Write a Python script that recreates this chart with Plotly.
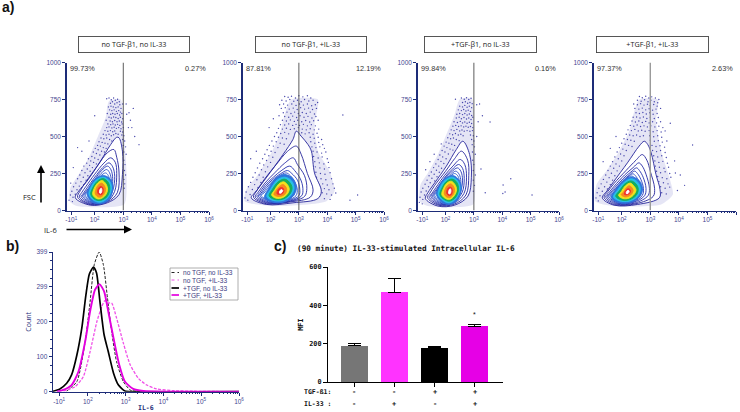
import numpy as np
import plotly.graph_objects as go

W, H = 740, 412
MONO = "DejaVu Sans Mono"
SANS = "Liberation Sans"
NAVY = "#1d2c78"
TICKC = "#45458f"

# ---------- panel a ----------
PANEL_TITLES = ["no TGF-β1, no IL-33", "no TGF-β1, +IL-33", "+TGF-β1, no IL-33", "+TGF-β1, +IL-33"]
LEFT_PCT = ["99.73%", "87.81%", "99.84%", "97.37%"]
RIGHT_PCT = ["0.27%", "12.19%", "0.16%", "2.63%"]
GATE_X = 3
FLOW_TICKS = [1.18, 2, 3, 4, 5, 6]
FLOW_LABELS = ["-10<sup>1</sup>", "10<sup>2</sup>", "10<sup>3</sup>", "10<sup>4</sup>", "10<sup>5</sup>", "10<sup>6</sup>"]
FSC_TICKS = [0, 250, 500, 750, 1000]

RING_LINE = ["#24249a", "#24249a", "#2428a4", "#2430ae", "#2438b8", "#2848c4", "#2c5cd0",
             "#2f74dc", "#28bfe6", "#16ad5c", "#f2e11e", "#f58a1f", "#ee2f2f", "#ffffff"]

HAZE_X = [[1.12,1.15,1.44,1.79,2.09,2.38,2.5,2.91,3.0,3.08,3.12,3.03,1.38],
          [1.09,1.15,1.56,2.03,2.32,2.5,2.73,3.67,3.55,3.67,4.08,4.26,3.97,2.2],
          [1.09,1.12,1.38,1.73,2.03,2.32,2.5,2.93,3.0,3.05,3.05,2.97,1.38],
          [1.07,1.12,1.5,1.91,2.26,2.44,2.61,3.26,3.2,3.38,3.67,3.79,3.38,1.73]]
HAZE_Y = [[63,153,243,356,491,626,739,750,603,378,198,41,30],
          [63,142,243,390,513,649,750,750,581,401,266,131,63,30],
          [63,176,254,378,513,649,750,757,581,333,176,41,30],
          [63,176,277,401,536,671,750,750,603,401,221,108,41,30]]

P1_RX = [
 [1.32,1.85,2.44,2.85,2.97,2.97,2.85,2.77,2.56,2.2,1.73,1.44],
 [1.4,1.85,2.44,2.79,2.85,2.77,2.67,2.44,2.09,1.68,1.5],
 [1.46,1.85,2.44,2.7,2.77,2.72,2.56,2.32,2.0,1.7,1.54],
 [1.52,1.88,2.4,2.63,2.7,2.63,2.5,2.28,2.0,1.74,1.6],
 [1.57,1.9,2.38,2.58,2.63,2.57,2.45,2.24,2.0,1.78,1.64],
 [1.62,1.92,2.35,2.54,2.58,2.52,2.42,2.22,2.0,1.82,1.68],
 [1.67,1.94,2.33,2.5,2.53,2.47,2.38,2.2,2.02,1.86,1.72],
 [1.73,1.91,2.2,2.5,2.64,2.56,2.32,2.03,1.83],
 [1.8,1.97,2.2,2.46,2.59,2.5,2.3,2.06,1.87],
 [1.86,2.03,2.2,2.44,2.53,2.46,2.29,2.09,1.93],
 [1.93,2.06,2.2,2.38,2.45,2.39,2.26,2.11,1.98],
 [2.02,2.11,2.23,2.34,2.38,2.33,2.24,2.12,2.04],
 [2.11,2.18,2.26,2.3,2.27,2.2,2.13,2.1],
 [2.17,2.22,2.25,2.23,2.19]]
P1_RY = [
 [86,36,52,108,243,401,491,495,446,333,198,131],
 [90,40,58,120,260,360,412,390,300,190,135],
 [92,44,62,130,250,325,356,320,245,165,120],
 [95,48,66,135,230,295,322,290,225,155,115],
 [98,52,70,135,215,275,300,270,210,150,115],
 [100,55,72,135,205,255,277,250,200,148,118],
 [103,58,75,135,195,238,254,232,190,147,120],
 [108,59,45,74,153,209,236,216,164],
 [108,68,56,86,153,203,225,207,158],
 [108,72,68,95,149,194,216,198,153],
 [108,81,79,104,144,180,203,187,149],
 [113,92,92,115,142,171,185,171,142],
 [117,106,110,135,158,162,149,131],
 [119,117,137,151,144]]

P2_RX = [
 [1.32,1.85,2.79,3.67,3.79,3.55,3.44,3.32,3.08,2.91,2.79,2.44,1.85,1.5],
 [1.4,1.85,2.7,3.4,3.5,3.3,3.08,2.91,2.6,2.2,1.8,1.52],
 [1.46,1.9,2.7,3.2,3.28,3.2,2.95,2.8,2.5,2.15,1.8,1.57],
 [1.52,1.95,2.7,3.1,3.14,3.05,2.85,2.68,2.4,2.1,1.8,1.62],
 [1.57,2.0,2.65,3.0,3.03,2.95,2.75,2.6,2.35,2.08,1.82,1.67],
 [1.62,2.05,2.6,2.9,2.94,2.85,2.7,2.55,2.32,2.08,1.86,1.72],
 [1.67,2.08,2.55,2.82,2.86,2.78,2.65,2.5,2.3,2.08,1.9,1.77],
 [1.79,2.03,2.44,2.79,2.91,2.79,2.5,2.2,1.95],
 [1.87,2.09,2.44,2.73,2.83,2.73,2.5,2.24,2.02],
 [1.95,2.15,2.44,2.67,2.76,2.67,2.49,2.27,2.07],
 [2.04,2.2,2.44,2.6,2.66,2.59,2.46,2.3,2.15],
 [2.12,2.26,2.44,2.54,2.57,2.51,2.43,2.31,2.19],
 [2.23,2.32,2.44,2.47,2.43,2.34,2.25],
 [2.32,2.38,2.43,2.38,2.33]]
P2_RY = [
 [86,41,52,81,131,254,401,446,502,536,480,378,221,131],
 [90,46,58,90,140,250,380,435,400,310,215,135],
 [92,50,62,95,150,235,310,356,320,255,185,125],
 [95,52,65,100,150,215,270,300,272,225,170,120],
 [97,55,68,100,145,205,250,270,248,210,160,118],
 [100,58,70,100,145,195,235,254,235,200,155,118],
 [102,60,72,102,145,190,225,240,222,192,150,118],
 [86,59,56,97,153,216,243,221,153],
 [95,68,68,104,153,203,225,207,149],
 [99,74,77,108,151,191,212,194,144],
 [104,83,88,113,146,176,194,180,140],
 [108,95,101,119,144,167,176,162,135],
 [113,108,119,137,153,153,135],
 [117,119,135,142,133]]

P3_RX = [
 [1.29,1.73,2.32,2.79,2.91,2.85,2.61,2.38,2.03,1.62,1.38],
 [1.36,1.75,2.3,2.72,2.82,2.78,2.56,2.32,2.0,1.62,1.44],
 [1.42,1.78,2.28,2.65,2.74,2.68,2.52,2.26,1.96,1.66,1.5],
 [1.48,1.8,2.26,2.58,2.66,2.6,2.46,2.22,1.94,1.7,1.55],
 [1.53,1.83,2.24,2.52,2.6,2.54,2.42,2.18,1.93,1.72,1.59],
 [1.58,1.85,2.22,2.47,2.54,2.48,2.36,2.16,1.93,1.76,1.63],
 [1.62,1.87,2.2,2.43,2.49,2.44,2.32,2.14,1.94,1.79,1.67],
 [1.68,1.85,2.14,2.42,2.56,2.48,2.26,1.97,1.77],
 [1.74,1.91,2.14,2.38,2.51,2.43,2.24,2.0,1.81],
 [1.8,1.97,2.14,2.36,2.46,2.4,2.23,2.03,1.87],
 [1.87,2.0,2.14,2.31,2.39,2.33,2.2,2.05,1.92],
 [1.96,2.05,2.17,2.28,2.32,2.27,2.18,2.06,1.98],
 [2.05,2.12,2.2,2.24,2.21,2.14,2.07,2.04],
 [2.11,2.16,2.19,2.17,2.13]]
P3_RY = [
 [81,30,36,97,221,378,468,412,300,187,120],
 [88,36,42,105,235,340,401,350,265,170,115],
 [92,40,48,115,225,310,345,300,235,155,110],
 [96,44,52,120,215,285,311,275,215,150,112],
 [98,48,56,125,205,265,288,255,205,145,112],
 [100,52,60,125,195,245,266,238,190,142,114],
 [102,56,63,125,185,232,250,225,182,140,116],
 [108,59,41,70,150,205,236,216,164],
 [108,68,52,82,150,200,225,207,158],
 [106,72,63,90,146,190,212,196,150],
 [106,81,74,100,140,176,198,185,146],
 [110,90,88,111,138,167,180,167,140],
 [113,102,106,131,154,158,145,128],
 [115,113,133,147,140]]

P4_RX = [
 [1.32,1.73,2.56,3.32,3.34,3.2,3.03,2.91,2.79,2.61,2.2,1.73,1.48],
 [1.38,1.75,2.5,3.1,3.15,3.0,2.88,2.72,2.5,2.15,1.72,1.52],
 [1.44,1.8,2.45,2.92,2.97,2.85,2.72,2.6,2.4,2.1,1.74,1.57],
 [1.49,1.85,2.4,2.8,2.85,2.75,2.62,2.52,2.32,2.05,1.76,1.61],
 [1.54,1.88,2.38,2.72,2.76,2.67,2.55,2.45,2.27,2.03,1.78,1.65],
 [1.59,1.9,2.35,2.65,2.68,2.6,2.48,2.39,2.22,2.02,1.8,1.69],
 [1.63,1.93,2.32,2.59,2.62,2.55,2.44,2.34,2.19,2.01,1.83,1.73],
 [1.64,1.87,2.26,2.61,2.73,2.61,2.34,2.06,1.79],
 [1.71,1.92,2.26,2.56,2.65,2.56,2.34,2.09,1.85],
 [1.79,1.97,2.26,2.5,2.58,2.49,2.32,2.11,1.91],
 [1.89,2.04,2.25,2.43,2.5,2.41,2.3,2.13,1.98],
 [1.98,2.1,2.25,2.36,2.4,2.34,2.26,2.16,2.05],
 [2.09,2.17,2.27,2.31,2.26,2.18,2.11],
 [2.16,2.22,2.26,2.22,2.17]]
P4_RY = [
 [86,36,41,86,142,243,390,446,468,435,322,198,131],
 [90,40,46,95,150,265,340,378,340,270,180,130],
 [92,44,50,100,150,245,300,322,290,240,165,125],
 [95,47,54,100,150,225,270,288,260,215,155,122],
 [97,50,57,102,150,210,250,266,240,200,148,120],
 [100,53,60,102,148,197,235,248,226,190,143,118],
 [102,56,62,103,146,187,222,233,214,182,140,118],
 [86,56,52,90,146,203,227,203,142],
 [92,65,63,97,146,191,214,191,137],
 [97,72,72,101,144,182,200,180,131],
 [101,81,83,108,140,169,185,167,126],
 [108,92,97,115,137,158,167,153,122],
 [110,106,115,133,146,144,126],
 [115,115,131,137,128]]

P1_DOTS = [(2.42,755),(2.5,760),(2.58,748),(2.66,760),(2.72,745),(2.8,752),(2.86,735),(2.55,725),(2.62,735),(2.7,720),(2.78,728),(2.88,715),(2.48,700),(2.57,705),(2.65,700),(2.74,695),(2.82,700),(2.92,690),(2.98,720),(2.52,680),(2.6,675),(2.68,680),(2.76,670),(2.84,675),(2.9,665),(2.44,655),(2.56,650),(2.63,655),(2.71,650),(2.79,655),(2.87,645),(2.95,655),(2.5,630),(2.58,625),(2.66,632),(2.74,628),(2.82,622),(2.9,630),(2.98,620),(2.4,610),(2.54,605),(2.62,600),(2.7,608),(2.78,600),(2.86,605),(2.94,598),(2.46,585),(2.56,580),(2.64,585),(2.72,578),(2.8,582),(2.88,575),(2.96,585),(2.42,560),(2.5,565),(2.6,558),(2.68,562),(2.76,555),(2.84,560),(2.92,552),(3.0,560),(2.36,540),(2.46,535),(2.55,540),(2.63,532),(2.7,538),(2.9,535),(2.98,530),(2.3,515),(2.4,510),(2.5,515),(2.58,505),(2.66,512),(2.74,520),(2.82,515),(2.95,510),(3.02,505),(2.22,490),(2.32,485),(2.42,490),(2.52,480),(2.6,470),(2.98,480),(3.05,470),(2.15,465),(2.26,460),(2.36,455),(2.46,450),(2.1,440),(2.2,435),(2.3,425),(2.4,420),(3.0,440),(3.08,430),(2.02,420),(2.12,410),(2.24,400),(2.34,395),(1.95,395),(2.06,385),(2.18,375),(3.02,395),(3.1,380),(1.9,365),(2.0,355),(2.12,345),(1.78,350),(1.86,335),(1.96,325),(2.06,315),(3.02,340),(3.06,310),(1.72,320),(1.82,305),(1.92,290),(1.62,300),(1.74,280),(1.84,265),(3.04,270),(3.08,240),(1.55,270),(1.66,255),(1.76,235),(1.48,240),(1.6,225),(1.7,205),(3.02,210),(3.05,180),(1.4,215),(1.52,195),(1.62,175),(1.34,185),(1.46,165),(1.55,150),(3.03,150),(1.26,160),(1.38,140),(1.48,120),(1.2,130),(1.32,110),(1.15,105),(1.24,90),(1.1,70),(1.22,60),(1.16,185),(3.35,690),(3.2,660),(3.1,720),(3.25,610),(3.18,560),(3.55,445),(2.0,640),(1.4,425),(1.8,470),(1.55,400),(1.25,290),(3.4,500),(3.3,560),(3.12,650)]

P2_DOTS = [(2.5,770),(2.62,765),(2.74,772),(2.88,760),(3.0,775),(3.14,768),(3.3,775),(3.42,760),(2.4,745),(2.55,740),(2.68,750),(2.82,738),(2.95,745),(3.08,735),(3.2,750),(3.35,740),(3.5,745),(3.66,730),(2.32,715),(2.46,720),(2.6,712),(2.75,720),(2.9,710),(3.02,720),(3.16,712),(3.3,720),(3.45,708),(3.58,715),(2.38,690),(2.52,695),(2.66,685),(2.8,692),(2.94,682),(3.06,695),(3.2,685),(3.34,692),(3.48,682),(3.62,690),(2.45,660),(2.58,665),(2.72,655),(2.85,665),(2.98,655),(3.12,662),(3.26,655),(3.4,665),(3.55,652),(2.3,640),(2.5,635),(2.64,630),(2.78,638),(2.92,628),(3.04,640),(3.18,630),(3.32,636),(3.46,625),(3.6,635),(2.42,610),(2.56,605),(2.7,612),(2.84,602),(2.96,610),(3.1,600),(3.24,608),(3.38,598),(3.52,606),(3.68,610),(2.35,580),(2.5,578),(2.64,585),(2.78,575),(2.9,582),(3.02,575),(3.16,582),(3.3,572),(3.44,580),(3.58,572),(2.28,555),(2.42,550),(2.56,556),(2.7,548),(2.84,552),(2.98,560),(3.12,550),(3.26,545),(3.4,552),(3.54,545),(3.7,550),(2.22,525),(2.36,520),(2.5,528),(2.64,518),(3.1,525),(3.22,518),(3.36,525),(3.5,515),(3.64,522),(2.14,500),(2.28,495),(2.42,490),(2.56,485),(3.4,495),(3.54,488),(3.68,495),(3.8,480),(2.05,470),(2.2,465),(2.34,455),(2.48,448),(3.42,465),(3.56,455),(3.7,460),(3.84,445),(1.96,440),(2.1,435),(2.26,425),(3.46,430),(3.6,425),(3.74,430),(3.9,420),(1.88,410),(2.02,400),(2.16,392),(3.5,400),(3.64,395),(3.8,388),(3.95,395),(1.8,380),(1.94,370),(2.08,360),(3.52,365),(3.68,355),(3.82,362),(4.0,350),(1.72,350),(1.86,338),(2.0,325),(3.56,330),(3.72,322),(3.88,315),(4.04,325),(1.62,320),(1.76,308),(1.9,295),(3.58,295),(3.74,288),(3.9,280),(4.06,290),(1.54,288),(1.68,275),(1.82,262),(3.6,258),(3.76,250),(3.92,245),(4.1,255),(1.46,255),(1.6,240),(1.74,225),(3.62,225),(3.78,215),(3.95,208),(4.15,215),(1.38,225),(1.52,208),(1.66,190),(3.68,190),(3.84,180),(4.0,172),(4.2,180),(1.3,190),(1.44,175),(1.56,155),(3.74,155),(3.9,148),(4.06,140),(4.25,150),(1.22,160),(1.36,142),(1.48,125),(3.82,120),(3.98,112),(4.15,105),(4.3,118),(1.14,125),(1.28,108),(1.1,85),(1.2,70),(3.72,95),(3.9,80),(4.1,75),(4.55,645),(4.8,70),(5.07,105),(1.5,400),(1.3,350),(1.95,560),(2.1,620)]

P3_DOTS = [(2.56,760),(2.66,752),(2.74,762),(2.82,750),(2.9,758),(2.35,752),(2.6,730),(2.7,735),(2.78,725),(2.86,730),(2.94,722),(2.5,705),(2.6,700),(2.68,710),(2.76,698),(2.84,705),(2.92,695),(3.1,715),(2.45,680),(2.56,675),(2.64,682),(2.72,672),(2.8,678),(2.88,670),(2.4,650),(2.5,655),(2.6,648),(2.68,655),(2.76,645),(2.84,652),(2.92,642),(2.38,625),(2.48,630),(2.56,620),(2.65,628),(2.74,618),(2.82,625),(2.9,615),(2.96,630),(2.3,600),(2.42,595),(2.52,602),(2.6,592),(2.68,598),(2.76,590),(2.84,596),(2.92,588),(2.26,570),(2.36,575),(2.46,568),(2.55,572),(2.64,565),(2.72,570),(2.8,562),(2.88,568),(2.96,560),(2.2,545),(2.3,540),(2.4,548),(2.5,538),(2.58,544),(2.66,536),(2.76,540),(2.86,535),(2.95,540),(2.15,518),(2.25,512),(2.35,520),(2.45,510),(2.54,515),(2.62,505),(2.88,510),(2.98,505),(2.08,492),(2.18,485),(2.28,490),(2.38,480),(2.48,472),(2.92,480),(3.0,470),(2.02,462),(2.12,455),(2.22,448),(2.32,440),(2.94,445),(3.02,430),(1.95,435),(2.05,425),(2.16,415),(2.26,408),(1.88,405),(1.98,395),(2.1,382),(2.95,395),(3.05,380),(1.8,375),(1.9,362),(2.02,350),(1.74,345),(1.84,332),(1.94,318),(2.96,340),(3.0,310),(1.66,315),(1.76,300),(1.86,285),(1.58,290),(1.68,272),(1.78,258),(2.98,270),(3.05,240),(1.5,260),(1.6,245),(1.7,228),(1.42,235),(1.52,218),(1.62,200),(2.98,205),(3.02,170),(1.35,205),(1.46,188),(1.56,170),(1.28,178),(1.4,160),(1.5,145),(2.98,130),(1.2,150),(1.32,132),(1.44,115),(1.14,125),(1.26,105),(1.1,90),(1.2,75),(1.08,55),(1.18,45),(1.6,380),(1.45,330),(1.3,275),(1.85,450),(3.2,720),(3.3,640),(3.57,598),(3.15,600),(3.1,500),(4.03,172),(4.1,125),(4.3,215),(4.02,115),(3.25,280),(5.05,105),(3.4,120)]

P4_DOTS = [(2.62,770),(2.72,762),(2.84,772),(2.95,760),(3.05,768),(3.18,760),(3.3,750),(2.55,745),(2.68,738),(2.8,748),(2.92,735),(3.02,745),(3.14,735),(3.26,728),(2.42,720),(2.55,715),(2.66,722),(2.78,712),(2.9,718),(3.0,710),(3.12,716),(3.24,705),(2.46,690),(2.6,685),(2.72,692),(2.84,680),(2.96,688),(3.08,678),(3.2,685),(3.36,690),(2.5,660),(2.62,655),(2.74,662),(2.86,652),(2.98,660),(3.1,650),(3.24,655),(2.4,630),(2.52,632),(2.64,625),(2.76,632),(2.88,622),(3.0,630),(3.14,622),(3.28,628),(2.36,605),(2.48,598),(2.6,605),(2.72,595),(2.84,602),(2.96,592),(3.08,600),(3.22,592),(3.36,600),(3.7,590),(2.3,575),(2.42,570),(2.54,578),(2.66,568),(2.78,572),(2.9,565),(3.02,572),(3.16,565),(3.3,570),(3.44,560),(2.22,545),(2.34,540),(2.46,548),(2.58,538),(2.7,542),(2.82,535),(2.96,540),(3.1,532),(3.24,540),(3.38,530),(3.52,538),(2.16,515),(2.28,510),(2.4,505),(2.52,510),(2.64,500),(2.76,505),(2.98,505),(3.12,498),(3.26,505),(3.4,495),(2.08,485),(2.2,480),(2.32,475),(2.44,468),(3.0,475),(3.14,468),(3.28,472),(3.42,462),(3.58,470),(2.0,455),(2.12,448),(2.24,440),(2.36,432),(3.06,440),(3.2,432),(3.34,438),(3.5,428),(1.92,425),(2.04,415),(2.16,405),(3.08,405),(3.22,398),(3.36,405),(3.52,392),(1.84,395),(1.96,382),(2.08,370),(3.12,370),(3.26,362),(3.4,370),(3.56,358),(1.76,362),(1.88,350),(2.0,335),(3.16,335),(3.3,325),(3.44,332),(3.6,320),(1.68,330),(1.8,315),(1.92,300),(3.18,300),(3.32,292),(3.48,285),(3.64,292),(1.6,300),(1.72,285),(1.84,268),(3.22,265),(3.36,255),(3.52,262),(3.68,250),(1.52,270),(1.64,252),(1.76,235),(3.26,230),(3.42,222),(3.58,215),(3.72,225),(1.44,240),(1.56,222),(1.68,205),(3.3,195),(3.46,188),(3.62,180),(1.36,210),(1.48,192),(1.6,175),(3.36,160),(3.52,150),(3.68,158),(1.28,180),(1.4,160),(1.5,145),(3.4,120),(3.56,112),(1.2,150),(1.32,130),(1.44,115),(1.14,120),(1.24,100),(1.1,85),(1.18,65),(4.48,443),(3.88,253),(4.2,170),(3.95,135),(3.85,335),(4.05,240),(1.35,330),(1.6,420),(1.8,500)]

RINGS_X = [P1_RX, P2_RX, P3_RX, P4_RX]
RINGS_Y = [P1_RY, P2_RY, P3_RY, P4_RY]
DOTS = [P1_DOTS, P2_DOTS, P3_DOTS, P4_DOTS]

# ---------- panel b ----------
HIST_TICKS = [0, 100, 200, 300, 400]
HIST_LABELS = ["0", "100", "200", "299", "399"]
H_NAMES = ["no TGF, no IL-33", "no TGF, +IL-33", "+TGF, no IL-33", "+TGF, +IL-33"]
H1_X = [1.44,1.71,1.93,2.06,2.17,2.30,2.41,2.52,2.63,2.76,2.94,3.12,3.38]
H1_Y = [2,29,144,258,364,400,364,268,172,86,29,5,0]
H2_X = [1.35,1.66,1.88,2.06,2.24,2.37,2.45,2.54,2.63,2.76,2.94,3.12,3.34,3.56,3.82,4.26,4.97,6]
H2_Y = [2,14,43,115,201,244,261,254,254,211,139,77,38,19,8,3,1,0]
H3_X = [1.04,1.26,1.44,1.57,1.71,1.84,1.95,2.04,2.15,2.23,2.32,2.43,2.54,2.68,2.81,2.98,3.2,6]
H3_Y = [0,8,24,48,105,182,278,337,357,340,258,163,115,53,19,2,0,0]
H4_X = [1.18,1.35,1.57,1.75,1.93,2.06,2.19,2.31,2.43,2.54,2.68,2.83,2.98,3.2,3.47,4.09,6]
H4_Y = [0,5,19,57,144,230,292,308,287,230,153,77,29,8,2,0,0]

# ---------- panel c ----------
BAR_CATS = [0, 1, 2, 3]
BAR_VALUES = [190, 468, 180, 290]
BAR_ERRORS = [12, 72, 6, 8]
BAR_COLORS = ["#767676", "#ff33ff", "#000000", "#e600e6"]
TGF_SIGNS = ["-", "-", "+", "+"]
IL33_SIGNS = ["-", "+", "-", "+"]
MFI_TICKS = [0, 200, 400, 600]

fig = go.Figure()


def dom_x(a, b):
    return [a / W, b / W]


def dom_y(top, bottom):
    return [1 - bottom / H, 1 - top / H]


def px(x):
    return x / W


def py(y):
    return 1 - y / H


minor_flow = sorted(d + np.log10(k) for d in (2, 3, 4, 5) for k in range(2, 10))
PANEL_PX = [(67, 209), (243, 384), (418, 559), (594, 736)]
BOX_PX = [(79, 189), (256, 366), (425, 536), (597, 708)]
annotations, shapes = [], []

for i in range(4):
    n = i + 1
    xa, ya = f"x{n}", f"y{n}"
    sx = "xaxis" if n == 1 else f"xaxis{n}"
    sy = "yaxis" if n == 1 else f"yaxis{n}"
    fig.add_trace(go.Scatter(x=HAZE_X[i] + HAZE_X[i][:1], y=HAZE_Y[i] + HAZE_Y[i][:1], mode="lines",
                             xaxis=xa, yaxis=ya, showlegend=False, hoverinfo="skip", fill="toself",
                             fillcolor="rgba(70,70,185,0.14)", line=dict(width=0, shape="spline", smoothing=0.6)))
    dx, dy = zip(*DOTS[i])
    fig.add_trace(go.Scatter(x=list(dx), y=list(dy), mode="markers", xaxis=xa, yaxis=ya,
                             showlegend=False, hoverinfo="skip",
                             marker=dict(size=1.4, color="#2c2ca0", opacity=0.85, line=dict(width=0))))
    for j, (rx, ry) in enumerate(zip(RINGS_X[i], RINGS_Y[i])):
        filled = j == 0 or j >= 7
        fig.add_trace(go.Scatter(
            x=rx + rx[:1], y=ry + ry[:1], mode="lines", xaxis=xa, yaxis=ya, showlegend=False,
            hoverinfo="skip", fill="toself" if filled else "none",
            fillcolor="#ffffff" if j == 0 else RING_LINE[j],
            line=dict(color=RING_LINE[j], width=0.9, shape="spline", smoothing=1)))
    l, r = PANEL_PX[i]
    fig.update_layout({
        sx: dict(domain=dom_x(l, r), range=[1.03, 6], anchor=ya, tickmode="array", tickvals=FLOW_TICKS,
                 ticktext=FLOW_LABELS, showgrid=False, zeroline=False, showline=True, linecolor=NAVY,
                 linewidth=1.3, ticks="outside", ticklen=3, tickcolor=NAVY, tickwidth=0.8, automargin=False,
                 tickfont=dict(family=SANS, size=6.5, color=TICKC),
                 minor=dict(tickmode="array", tickvals=minor_flow, ticks="outside", ticklen=1.5,
                            tickcolor=NAVY, tickwidth=0.5, showgrid=False)),
        sy: dict(domain=dom_y(62.5, 210.5), range=[0, 1000], anchor=xa, tickmode="array", tickvals=FSC_TICKS,
                 showgrid=False, zeroline=False, showline=True, linecolor=NAVY, linewidth=1.5, automargin=False,
                 ticks="outside", ticklen=3, tickcolor=NAVY, tickwidth=0.8,
                 tickfont=dict(family=SANS, size=6.5, color=TICKC)),
    })
    shapes.append(dict(type="line", xref=xa, yref=ya, x0=GATE_X, x1=GATE_X, y0=0, y1=1000, layer="above",
                       line=dict(color="#9a9a9a" if i == 3 else "#4a4a4a", width=1.4 if i == 3 else 0.9)))
    b0, b1 = BOX_PX[i]
    annotations.append(dict(x=px((b0 + b1) / 2), y=py(45), xref="paper", yref="paper", text=PANEL_TITLES[i],
                            showarrow=False, width=b1 - b0, height=15, bordercolor="#444444", borderwidth=0.9,
                            borderpad=0, bgcolor="#ffffff", align="center", valign="middle",
                            font=dict(family="Open Sans", size=7.2, color="#222222")))
    annotations.append(dict(x=px(l + 1), y=py(68), xref="paper", yref="paper", text=LEFT_PCT[i], showarrow=False,
                            xanchor="left", font=dict(family=SANS, size=7.3, color="#333333")))
    annotations.append(dict(x=px(r - 1.5), y=py(68), xref="paper", yref="paper", text=RIGHT_PCT[i], showarrow=False,
                            xanchor="right", font=dict(family=SANS, size=7.3, color="#333333")))

# histogram
MAG = "#e400e0"
for xs, ys, col, dash, w, name in [
    (H1_X, H1_Y, "#222222", "3px,1.5px", 1.0, H_NAMES[0]),
    (H2_X, H2_Y, "#f050e8", "3px,1.5px", 1.3, H_NAMES[1]),
    (H3_X, H3_Y, "#000000", "solid", 1.7, H_NAMES[2]),
    (H4_X, H4_Y, MAG, "solid", 1.9, H_NAMES[3]),
]:
    fig.add_trace(go.Scatter(x=xs, y=ys, mode="lines", xaxis="x5", yaxis="y5", name=name, showlegend=False,
                             cliponaxis=False,
                             line=dict(color=col, dash=dash, width=w, shape="spline", smoothing=0.6)))

fig.update_layout(
    xaxis5=dict(domain=dom_x(52.7, 239), range=[1.07, 6], anchor="y5", tickmode="array", automargin=False,
                tickvals=[1.24, 2, 3, 4, 5, 6], ticktext=FLOW_LABELS, showgrid=False, zeroline=False,
                showline=True, linecolor=NAVY, linewidth=1.2, ticks="outside", ticklen=3, tickcolor=NAVY,
                tickwidth=0.8, tickfont=dict(family=SANS, size=6.5, color=TICKC),
                title=dict(text="<b>IL-6</b>", standoff=2, font=dict(family=MONO, size=6.5, color=NAVY)),
                minor=dict(tickmode="array", tickvals=minor_flow, ticks="outside", ticklen=1.5,
                           tickcolor=NAVY, tickwidth=0.5, showgrid=False)),
    yaxis5=dict(domain=dom_y(252, 391.7), range=[0, 400], anchor="x5", tickmode="array", tickvals=HIST_TICKS,
                ticktext=HIST_LABELS, showgrid=False, zeroline=False, showline=True, linecolor=NAVY, linewidth=1.2,
                ticks="outside", ticklen=3, tickcolor=NAVY, tickwidth=0.8, automargin=False,
                tickfont=dict(family=SANS, size=6.5, color=TICKC),
                title=dict(text="Count", standoff=3, font=dict(family="Open Sans", size=7, color=NAVY)),
                minor=dict(tickvals=[25, 50, 75, 125, 150, 175, 225, 250, 275, 325, 350, 375], ticks="outside",
                           ticklen=1.5, tickcolor=NAVY, tickwidth=0.5, showgrid=False)),
)

# legend box for histogram
shapes.append(dict(type="rect", xref="paper", yref="paper", x0=px(170), x1=px(238), y0=py(268), y1=py(300),
                   line=dict(color="#9a9a9a", width=0.8), fillcolor="#ffffff", layer="above"))
LEG_Y = [272.5, 280, 288, 295]
LEG_STYLE = [("#222222", "dot", 1), ("#f050e8", "dot", 1), ("#000000", "solid", 1.7), (MAG, "solid", 1.7)]
for yy, name, (col, dash, w) in zip(LEG_Y, H_NAMES, LEG_STYLE):
    shapes.append(dict(type="line", xref="paper", yref="paper", x0=px(171.5), x1=px(179), y0=py(yy), y1=py(yy),
                       line=dict(color=col, dash=dash, width=w), layer="above"))
    annotations.append(dict(x=px(180.5), y=py(yy), xref="paper", yref="paper", text=name, showarrow=False,
                            xanchor="left", font=dict(family=SANS, size=6.6, color="#3a3a80")))

# bars
fig.add_trace(go.Bar(x=BAR_CATS, y=BAR_VALUES, width=0.67, xaxis="x6", yaxis="y6", showlegend=False,
                     marker=dict(color=BAR_COLORS, line=dict(width=0)),
                     error_y=dict(type="data", symmetric=False, array=BAR_ERRORS, arrayminus=[0, 0, 0, 0],
                                  color="#000000", thickness=1.1, width=6.5)))
fig.update_layout(
    xaxis6=dict(domain=dom_x(328, 503), range=[-0.654, 3.7], anchor="y6", tickmode="array", tickvals=BAR_CATS,
                showticklabels=False, showgrid=False, zeroline=False, showline=True, linecolor="#000000",
                linewidth=1.2, ticks="outside", ticklen=4, tickcolor="#000000", tickwidth=1, automargin=False),
    yaxis6=dict(domain=dom_y(267, 382), range=[0, 600], anchor="x6", tickmode="array", tickvals=MFI_TICKS,
                showgrid=False, zeroline=False, showline=True, linecolor="#000000", linewidth=1.2,
                ticks="outside", ticklen=4, tickcolor="#000000", tickwidth=1, automargin=False,
                tickfont=dict(family=MONO, size=6.8, color="#111111", weight="bold"),
                title=dict(text="<b>MFI</b>", standoff=4, font=dict(family=MONO, size=7, color="#111111"))),
)
for cat, t, il in zip(BAR_CATS, TGF_SIGNS, IL33_SIGNS):
    annotations.append(dict(x=cat, y=py(392), xref="x6", yref="paper", text=f"<b>{t}</b>", showarrow=False,
                            font=dict(family=MONO, size=7, color="#111111")))
    annotations.append(dict(x=cat, y=py(403.5), xref="x6", yref="paper", text=f"<b>{il}</b>", showarrow=False,
                            font=dict(family=MONO, size=7, color="#111111")))
annotations.append(dict(x=3, y=py(314), xref="x6", yref="paper", text="*", showarrow=False,
                        font=dict(family=SANS, size=7, color="#111111")))
annotations.append(dict(x=px(333), y=py(392), xref="paper", yref="paper", text="<b>TGF-ß1:</b>", showarrow=False,
                        xanchor="right", font=dict(family=MONO, size=6.5, color="#111111")))
annotations.append(dict(x=px(333), y=py(403.5), xref="paper", yref="paper", text="<b>IL-33 :</b>", showarrow=False,
                        xanchor="right", font=dict(family=MONO, size=6.5, color="#111111")))
annotations.append(dict(x=px(295), y=py(248.5), xref="paper", yref="paper",
                        text="<b>(90 minute) IL-33-stimulated Intracellular IL-6</b>", showarrow=False,
                        xanchor="left", font=dict(family=MONO, size=7.7, color="#111111")))

# panel letters
for txt, x, y in [("a)", 0, 7), ("b)", 4, 246), ("c)", 272, 246)]:
    annotations.append(dict(x=px(x), y=py(y), xref="paper", yref="paper", text=f"<b>{txt}</b>", showarrow=False,
                            xanchor="left", font=dict(family=SANS, size=14, color="#111111")))

# FSC / IL-6 arrows
annotations.append(dict(x=px(41), y=py(165), xref="paper", yref="paper", text="", showarrow=True, ax=0, ay=39,
                        arrowhead=2, arrowsize=1, arrowwidth=1.6, arrowcolor="#000000"))
annotations.append(dict(x=px(132), y=py(229.5), xref="paper", yref="paper", text="", showarrow=True, ax=-67, ay=0,
                        arrowhead=2, arrowsize=1, arrowwidth=1.6, arrowcolor="#000000"))
annotations.append(dict(x=px(29), y=py(197), xref="paper", yref="paper", text="FSC", showarrow=False,
                        font=dict(family="Open Sans", size=7.5, color="#222222")))
annotations.append(dict(x=px(50), y=py(229.5), xref="paper", yref="paper", text="IL-6", showarrow=False,
                        font=dict(family="Open Sans", size=7.5, color="#222222")))

for a in annotations:
    a.setdefault("xanchor", "center")
    a.setdefault("yanchor", "middle")

fig.update_layout(width=W, height=H, margin=dict(l=0, r=0, t=0, b=0, autoexpand=False), paper_bgcolor="#ffffff",
                  plot_bgcolor="#ffffff", annotations=annotations, shapes=shapes, showlegend=False,
                  bargap=0)

fig.write_html("out.html", config={"displayModeBar": False}, post_script="document.body.style.margin='0';")
